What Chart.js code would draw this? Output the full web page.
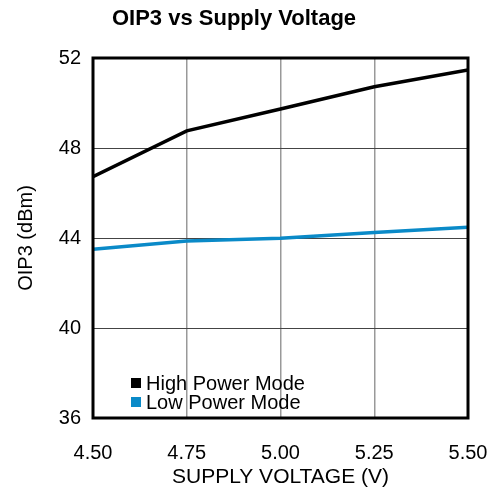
<!DOCTYPE html>
<html>
<head>
<meta charset="utf-8">
<script src="https://cdn.jsdelivr.net/npm/chart.js@4/dist/chart.umd.min.js"></script>
<style>
  html, body { margin: 0; padding: 0; background: #fff; }
  #wrap { width: 494px; height: 490px; }
</style>
</head>
<body>
<div id="wrap"><canvas id="chart"></canvas></div>
<script>
const voltage = [4.5, 4.75, 5.0, 5.25, 5.5];
const highPower = [46.73, 48.76, 49.73, 50.72, 51.47];
const lowPower = [43.5, 43.87, 43.99, 44.24, 44.48];
const xTicks = [4.5, 4.75, 5.0, 5.25, 5.5];
const yTicks = [36, 40, 44, 48, 52];

const FONT = "'Liberation Sans', Arial, sans-serif";
const BLUE = "#0a8ac8";

// box round the plot and the legend drawn inside it
const boxLegend = {
  id: "boxLegend",
  afterDatasetsDraw(chart) {
    const ctx = chart.ctx;
    const a = chart.chartArea;
    ctx.save();
    ctx.strokeStyle = "#000";
    ctx.lineWidth = 3;
    ctx.strokeRect(a.left, a.top, a.right - a.left, a.bottom - a.top);

    ctx.font = "20px " + FONT;
    ctx.textBaseline = "middle";
    chart.data.datasets.forEach((ds, i) => {
      const y = a.top + 325 + i * 19;
      ctx.fillStyle = ds.borderColor;
      ctx.fillRect(a.left + 38, y - 5, 10, 10);
      ctx.fillStyle = "#000";
      ctx.fillText(ds.label, a.left + 53, y + 1);
    });
    ctx.restore();
  }
};

new Chart(document.getElementById("chart"), {
  type: "line",
  data: {
    datasets: [
      {
        label: "High Power Mode",
        data: voltage.map((v, i) => ({x: v, y: highPower[i]})),
        borderColor: "#000",
        borderWidth: 3.5,
        pointRadius: 0,
        tension: 0
      },
      {
        label: "Low Power Mode",
        data: voltage.map((v, i) => ({x: v, y: lowPower[i]})),
        borderColor: BLUE,
        borderWidth: 3.5,
        pointRadius: 0,
        tension: 0
      }
    ]
  },
  options: {
    responsive: true,
    maintainAspectRatio: false,
    animation: false,
    layout: { padding: { left: 0, right: 26, top: 0, bottom: 0 } },
    plugins: {
      legend: { display: false },
      tooltip: { enabled: false },
      title: {
        display: true,
        text: "OIP3 vs Supply Voltage",
        color: "#000",
        font: { family: FONT, size: 22, weight: "bold" },
        padding: { top: 6, bottom: 25.6 }
      }
    },
    scales: {
      x: {
        type: "linear",
        min: 4.5,
        max: 5.5,
        afterFit(scale) {
          scale.height = 72;
          scale.paddingLeft = 0;
          scale.paddingRight = 0;
        },
        afterBuildTicks(scale) { scale.ticks = xTicks.map(v => ({value: v})); },
        ticks: {
          color: "#000",
          font: { family: FONT, size: 20 },
          padding: 23,
          maxRotation: 0,
          callback: v => v.toFixed(2)
        },
        grid: { color: "#999", lineWidth: 1.5, drawTicks: false },
        border: { display: false },
        title: {
          display: true,
          text: "SUPPLY VOLTAGE (V)",
          color: "#000",
          font: { family: FONT, size: 21 },
          padding: { top: 4, bottom: 0 }
        }
      },
      y: {
        min: 36,
        max: 52,
        afterFit(scale) {
          scale.width = 93;
          scale.paddingTop = 0;
          scale.paddingBottom = 0;
        },
        afterBuildTicks(scale) { scale.ticks = yTicks.map(v => ({value: v})); },
        ticks: {
          color: "#000",
          font: { family: FONT, size: 20 },
          padding: 12
        },
        grid: { color: "#444", lineWidth: 1, drawTicks: false },
        border: { display: false },
        title: {
          display: true,
          text: "OIP3 (dBm)",
          color: "#000",
          font: { family: FONT, size: 20 },
          padding: { top: 14, bottom: 0 }
        }
      }
    }
  },
  plugins: [boxLegend]
});
</script>
</body>
</html>
